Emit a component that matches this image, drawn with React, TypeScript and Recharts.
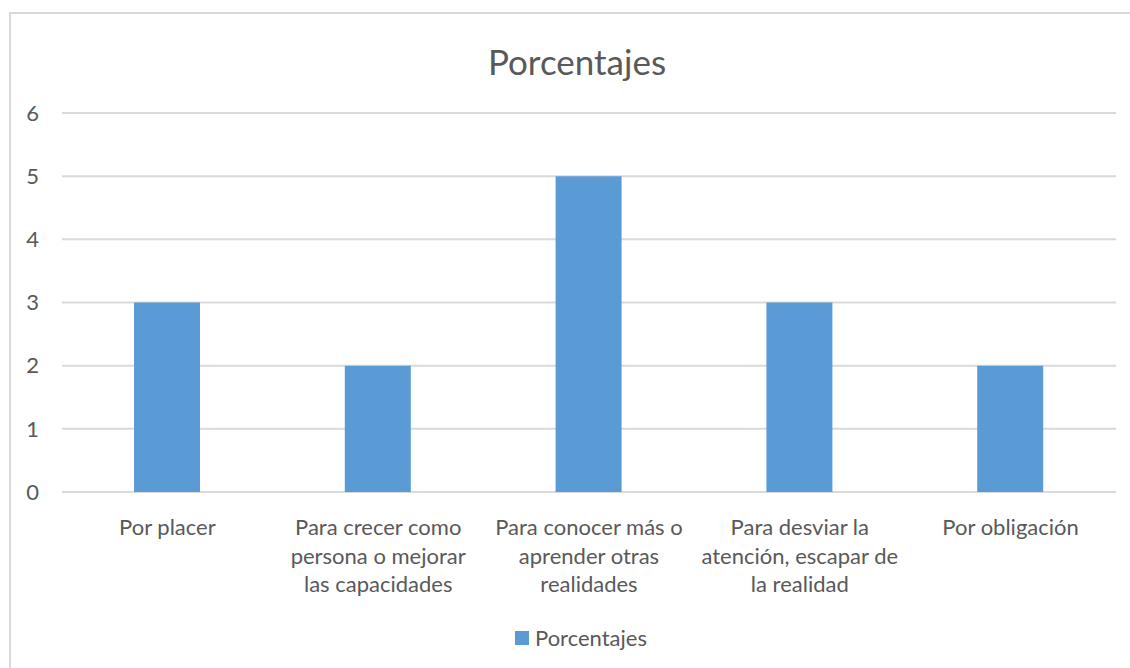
import { BarChart, Bar, XAxis, YAxis, CartesianGrid } from 'recharts';

const categories = [
  'Por placer',
  'Para crecer como persona o mejorar las capacidades',
  'Para conocer más o aprender otras realidades',
  'Para desviar la atención, escapar de la realidad',
  'Por obligación',
];
const categoryLines: string[][] = [
  ['Por placer'],
  ['Para crecer como', 'persona o mejorar', 'las capacidades'],
  ['Para conocer más o', 'aprender otras', 'realidades'],
  ['Para desviar la', 'atención, escapar de', 'la realidad'],
  ['Por obligación'],
];
const porcentajes = [3, 2, 5, 3, 2];
const yTicks = [0, 1, 2, 3, 4, 5, 6];

const FONT = 'Lato, "Open Sans", sans-serif';
const TEXT = '#595959';
const BLUE = '#5b9bd5';

const data = categories.map((name, i) => ({ name, idx: i, Porcentajes: porcentajes[i] }));

function XTick(props: any) {
  const { x, y, index } = props;
  const lines = categoryLines[index] || [];
  return (
    <text x={x} y={y} textAnchor="middle" fill={TEXT} fontSize={22} fontFamily={FONT}>
      {lines.map((l, i) => (
        <tspan key={i} x={x} dy={i === 0 ? 0 : 28.5}>
          {l}
        </tspan>
      ))}
    </text>
  );
}

export default function App() {
  return (
    <div style={{ position: 'absolute', left: 0, top: 0, width: 1130, height: 668, background: '#fff', overflow: 'hidden' }}>
      <div
        style={{
          position: 'absolute',
          left: 9,
          top: 12,
          width: 1140,
          height: 680,
          border: '2px solid #d9d9d9',
        }}
      />
      <div
        style={{
          position: 'absolute',
          left: 0,
          width: 1130,
          top: 40,
          textAlign: 'center',
          fontFamily: FONT,
          fontSize: 35,
          color: TEXT,
          paddingLeft: 24,
          boxSizing: 'border-box',
        }}
      >
        Porcentajes
      </div>
      <div style={{ position: 'absolute', left: 0, top: 0 }}>
        <BarChart
          width={1130}
          height={668}
          data={data}
          margin={{ top: 113, right: 14, left: 0, bottom: 146 }}
        >
          <CartesianGrid vertical={false} stroke="#d9d9d9" strokeWidth={2} />
          <XAxis
            dataKey="name"
            axisLine={false}
            tickLine={false}
            tickSize={0}
            tick={<XTick />}
            tickMargin={43}
            interval={0}
          />
          <YAxis
            width={62}
            domain={[0, 6]}
            ticks={yTicks}
            axisLine={false}
            tickLine={false}
            tickSize={0}
            tickMargin={23}
            tick={{ fill: TEXT, fontSize: 22, fontFamily: FONT }}
          />
          <Bar dataKey="Porcentajes" fill={BLUE} barSize={66} isAnimationActive={false} />
        </BarChart>
      </div>
      <div
        style={{
          position: 'absolute',
          left: 515,
          top: 624,
          display: 'flex',
          alignItems: 'center',
          fontFamily: FONT,
          fontSize: 22,
          color: TEXT,
        }}
      >
        <span style={{ display: 'inline-block', width: 14, height: 14, background: BLUE, marginRight: 6 }} />
        <span>Porcentajes</span>
      </div>
    </div>
  );
}
